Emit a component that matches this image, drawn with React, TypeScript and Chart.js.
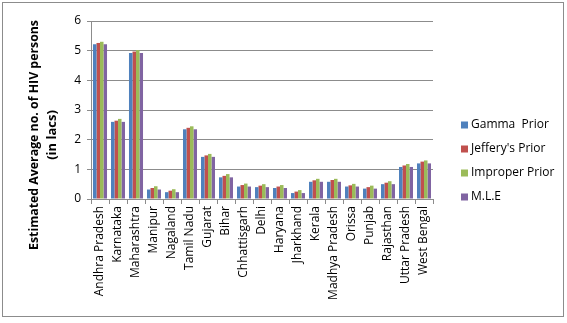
import React, { useEffect, useRef } from "react";
import { Chart, registerables } from "chart.js";

Chart.register(...registerables);

const states = [
  "Andhra Pradesh", "Karnataka", "Maharashtra", "Manipur", "Nagaland", "Tamil Nadu",
  "Gujarat", "Bihar", "Chhattisgarh", "Delhi", "Haryana", "Jharkhand", "Kerala",
  "Madhya Pradesh", "Orissa", "Punjab", "Rajasthan", "Uttar Pradesh", "West Bengal",
];
const gammaPrior = [5.22, 2.6, 4.92, 0.32, 0.23, 2.35, 1.42, 0.73, 0.42, 0.4, 0.37, 0.2, 0.58, 0.58, 0.42, 0.35, 0.5, 1.08, 1.2];
const jefferysPrior = [5.26, 2.64, 4.97, 0.37, 0.28, 2.4, 1.47, 0.78, 0.47, 0.45, 0.42, 0.25, 0.63, 0.64, 0.46, 0.4, 0.55, 1.13, 1.26];
const improperPrior = [5.3, 2.7, 5.02, 0.43, 0.33, 2.45, 1.52, 0.84, 0.52, 0.5, 0.47, 0.3, 0.68, 0.68, 0.51, 0.45, 0.6, 1.18, 1.3];
const mle = [5.22, 2.6, 4.92, 0.32, 0.23, 2.35, 1.42, 0.73, 0.42, 0.4, 0.37, 0.2, 0.58, 0.58, 0.42, 0.35, 0.5, 1.08, 1.2];
const seriesNames = ["Gamma  Prior", "Jeffery's Prior", "Improper Prior", "M.L.E"];
const seriesColors = ["#4F81BD", "#C0504D", "#9BBB59", "#8064A2"];
const yTitle = ["Estimated Average no. of HIV persons", "(in lacs)"];

const FONT = "'Open Sans', 'Noto Sans', sans-serif";

export default function App() {
  const ref = useRef<HTMLCanvasElement>(null);
  useEffect(() => {
    const canvas = ref.current!;
    const seriesData = [gammaPrior, jefferysPrior, improperPrior, mle];
    const framePlugin = {
      id: "frame",
      afterDraw(chart: any) {
        const ctx = chart.ctx;
        ctx.save();
        ctx.strokeStyle = "#8c8c8c";
        ctx.lineWidth = 1;
        ctx.strokeRect(2.5, 2.5, 561, 314);
        // legend
        ctx.font = `12px ${FONT}`;
        ctx.textBaseline = "middle";
        ctx.textAlign = "left";
        seriesNames.forEach((n, i) => {
          const y = 125 + i * 24;
          ctx.fillStyle = seriesColors[i];
          ctx.fillRect(461, y - 3.5, 7, 7);
          ctx.fillStyle = "#000";
          ctx.fillText(n, 471, y, 88);
        });
        // y title
        ctx.save();
        ctx.translate(0, 135);
        ctx.rotate(-Math.PI / 2);
        ctx.font = `bold 13px ${FONT}`;
        ctx.textAlign = "center";
        ctx.fillStyle = "#000";
        ctx.fillText(yTitle[0], 0, 34, 230);
        ctx.fillText(yTitle[1], 0, 52, 230);
        ctx.restore();
        ctx.restore();
      },
    };
    const chart = new Chart(canvas, {
      type: "bar",
      data: {
        labels: states,
        datasets: seriesNames.map((n, i) => ({
          label: n,
          data: seriesData[i],
          backgroundColor: seriesColors[i],
          borderColor: seriesColors[i],
          borderWidth: 0,
          categoryPercentage: 0.78,
          barPercentage: 1,
        })),
      },
      options: {
        animation: false,
        responsive: false,
        maintainAspectRatio: false,
        layout: { padding: { left: 14, right: 134, top: 21, bottom: 0 } },
        plugins: { legend: { display: false }, tooltip: { enabled: false } },
        scales: {
          x: {
            afterFit: (s: any) => { s.height = 124; },
            grid: { display: true, offset: true, drawOnChartArea: false, tickLength: 5, color: "#8c8c8c" },
            border: { color: "#8c8c8c" },
            ticks: {
              maxRotation: 90, minRotation: 90, autoSkip: false,
              font: { family: FONT, size: 12 }, color: "#000", padding: 2,
            },
          },
          y: {
            min: 0, max: 6,
            afterFit: (s: any) => { s.width = 77; },
            ticks: { stepSize: 1, font: { family: FONT, size: 12 }, color: "#000", padding: 6 },
            grid: { color: "#8c8c8c", tickLength: 4 },
            border: { color: "#8c8c8c" },
            title: { display: false },
          },
        },
      },
      plugins: [framePlugin],
    } as any);
    return () => chart.destroy();
  }, []);
  return (
    <div style={{ position: "fixed", left: 0, top: 0, width: 567, height: 323, background: "#fff" }}>
      <canvas ref={ref} width={567} height={323} style={{ display: "block" }} />
    </div>
  );
}
